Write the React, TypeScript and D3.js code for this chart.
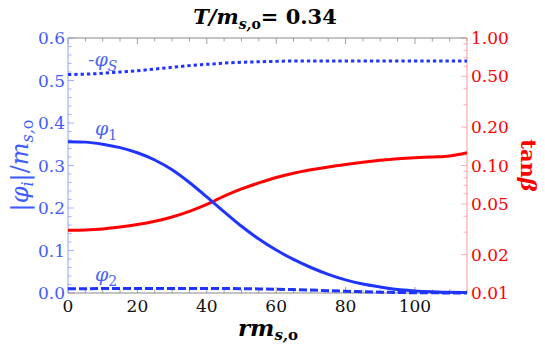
import React, { useEffect, useRef } from "react";
import * as d3 from "d3";

// radius grid (r m_s,o)
const rGrid = [0, 5, 10, 15, 20, 25, 30, 35, 40, 45, 50, 55, 60, 65, 70, 75, 80, 85, 90, 95, 100, 105, 110, 115];
// -phi_S / m_s,o (dotted)
const phiS = [0.514, 0.515, 0.517, 0.52, 0.523, 0.527, 0.531, 0.535, 0.538, 0.541, 0.543, 0.544, 0.545, 0.546, 0.546, 0.546, 0.546, 0.546, 0.546, 0.546, 0.546, 0.546, 0.546, 0.546];
// phi_1 / m_s,o (solid)
const phi1 = [0.356, 0.355, 0.35, 0.342, 0.33, 0.313, 0.29, 0.26, 0.226, 0.191, 0.157, 0.127, 0.101, 0.079, 0.06, 0.044, 0.031, 0.021, 0.014, 0.008, 0.005, 0.003, 0.0015, 0.001];
// phi_2 / m_s,o (dashed)
const phi2 = [0.01, 0.0102, 0.0104, 0.0106, 0.0107, 0.0108, 0.0108, 0.0108, 0.0107, 0.0105, 0.0102, 0.0097, 0.009, 0.008, 0.0068, 0.0055, 0.0042, 0.003, 0.002, 0.0012, 0.0007, 0.0004, 0.0002, 0.0001];
// tan beta (right log axis)
const tanB = [0.031, 0.0312, 0.0318, 0.0329, 0.0344, 0.0365, 0.0395, 0.0437, 0.0495, 0.0575, 0.0655, 0.073, 0.0805, 0.087, 0.0925, 0.0975, 0.102, 0.1062, 0.1098, 0.1128, 0.115, 0.1166, 0.1188, 0.126];

const xTicks = [0, 20, 40, 60, 80, 100];
const yLeftTicks = [0, 0.1, 0.2, 0.3, 0.4, 0.5, 0.6];
const yRightTicks = [0.01, 0.02, 0.05, 0.1, 0.2, 0.5, 1];

const FONT = "DejaVu Serif";
const BLUE = "#1f35ff";
const LBLUE = "#4a64f5";
const RED = "#ff0000";

export default function App() {
  const ref = useRef<SVGSVGElement>(null);

  useEffect(() => {
    const svg = d3.select(ref.current);
    svg.selectAll("*").remove();

    const left = 68, right = 467, top = 38, bottom = 293;

    const x = d3.scaleLinear().domain([0, 115]).range([left, right]);
    const yL = d3.scaleLinear().domain([0, 0.6]).range([bottom, top]);
    const yR = d3.scaleLog().domain([0.01, 1]).range([bottom, top]);

    const g = svg.append("g");

    // frame ticks (inward)
    d3.range(0, 116, 5).forEach((v) => {
      const len = v % 20 === 0 ? 6 : 3.5;
      g.append("line").attr("x1", x(v)).attr("x2", x(v)).attr("y1", bottom).attr("y2", bottom - len).attr("stroke", "#888").attr("stroke-width", 0.8);
      g.append("line").attr("x1", x(v)).attr("x2", x(v)).attr("y1", top).attr("y2", top + len).attr("stroke", "#888").attr("stroke-width", 0.8);
    });
    d3.range(0, 0.601, 0.02).forEach((v, i) => {
      const len = i % 5 === 0 ? 6 : 3.5;
      g.append("line").attr("x1", left).attr("x2", left + len).attr("y1", yL(v)).attr("y2", yL(v)).attr("stroke", "#8fa0ff").attr("stroke-width", 0.8);
    });
    const logMinor: number[] = [];
    [0.01, 0.1].forEach((d) => d3.range(1, 10).forEach((k) => logMinor.push(k * d)));
    logMinor.push(1);
    logMinor.forEach((v) => {
      const major = yRightTicks.some((t) => Math.abs(t - v) < 1e-9);
      const len = major ? 6 : 3.5;
      g.append("line").attr("x1", right).attr("x2", right - len).attr("y1", yR(v)).attr("y2", yR(v)).attr("stroke", "#ff9a9a").attr("stroke-width", 0.8);
    });

    // frame lines
    g.append("line").attr("x1", left).attr("x2", right).attr("y1", bottom).attr("y2", bottom).attr("stroke", "#888");
    g.append("line").attr("x1", left).attr("x2", right).attr("y1", top).attr("y2", top).attr("stroke", "#888");
    g.append("line").attr("x1", left).attr("x2", left).attr("y1", top).attr("y2", bottom).attr("stroke", "#8fa0ff");
    g.append("line").attr("x1", right).attr("x2", right).attr("y1", top).attr("y2", bottom).attr("stroke", "#ff9a9a");

    // tick labels
    xTicks.forEach((v) => {
      g.append("text").attr("x", x(v)).attr("y", bottom + 19).attr("text-anchor", "middle").attr("font-family", FONT).attr("font-size", 17).attr("fill", "#111").text(String(v));
    });
    yLeftTicks.forEach((v) => {
      g.append("text").attr("x", left - 3).attr("y", yL(v) + 6).attr("text-anchor", "end").attr("font-family", FONT).attr("font-size", 17).attr("fill", "#3f5cff").text(v.toFixed(1));
    });
    yRightTicks.forEach((v) => {
      g.append("text").attr("x", right + 4).attr("y", yR(v) + 6).attr("text-anchor", "start").attr("font-family", FONT).attr("font-size", 17).attr("fill", RED).text(v.toFixed(2));
    });

    const pts = (ys: number[]) => rGrid.map((r, i) => [r, ys[i]] as [number, number]);
    const lineL = d3.line<[number, number]>().x((d) => x(d[0])).y((d) => yL(d[1])).curve(d3.curveMonotoneX);
    const lineR = d3.line<[number, number]>().x((d) => x(d[0])).y((d) => yR(d[1])).curve(d3.curveMonotoneX);

    g.append("path").attr("d", lineR(pts(tanB))).attr("fill", "none").attr("stroke", RED).attr("stroke-width", 3);
    g.append("path").attr("d", lineL(pts(phi2))).attr("fill", "none").attr("stroke", BLUE).attr("stroke-width", 3).attr("stroke-dasharray", "8,3");
    g.append("path").attr("d", lineL(pts(phiS))).attr("fill", "none").attr("stroke", BLUE).attr("stroke-width", 3).attr("stroke-dasharray", "3.3,3");
    g.append("path").attr("d", lineL(pts(phi1))).attr("fill", "none").attr("stroke", BLUE).attr("stroke-width", 3);

    // curve labels
    const lab = (px: number, py: number, main: string, sub: string, subItalic: boolean) => {
      const t = g.append("text").attr("x", px).attr("y", py).attr("font-family", FONT).attr("font-size", 19).attr("fill", LBLUE);
      t.append("tspan").attr("font-style", "italic").text(main);
      t.append("tspan").attr("dy", 5).attr("font-size", 14).attr("font-style", subItalic ? "italic" : "normal").text(sub);
    };
    lab(88, 66, "-φ", "S", true);
    lab(95, 135, "φ", "1", false);
    lab(95, 281, "φ", "2", false);

    // title
    const title = svg.append("text").attr("x", 265).attr("y", 24).attr("text-anchor", "middle").attr("font-family", FONT).attr("font-size", 21).attr("font-weight", "bold").attr("fill", "#000");
    title.append("tspan").attr("font-style", "italic").text("T/m");
    title.append("tspan").attr("dy", 5).attr("font-size", 14).attr("font-style", "italic").text("s,");
    title.append("tspan").attr("font-size", 14).text("o");
    title.append("tspan").attr("dy", -5).text("= 0.34");

    // x label
    const xl = svg.append("text").attr("x", 268).attr("y", 336).attr("text-anchor", "middle").attr("font-family", FONT).attr("font-size", 23).attr("font-weight", "bold").attr("fill", "#000");
    xl.append("tspan").attr("font-style", "italic").text("rm");
    xl.append("tspan").attr("dy", 4).attr("font-size", 15).attr("font-style", "italic").text("s,");
    xl.append("tspan").attr("font-size", 15).text("o");

    // left y label
    const yl = svg.append("text").attr("transform", `translate(28,${(top + bottom) / 2}) rotate(-90)`).attr("text-anchor", "middle").attr("font-family", FONT).attr("font-size", 24).attr("fill", "#3f5cff");
    yl.append("tspan").text("|");
    yl.append("tspan").attr("font-style", "italic").text("φ");
    yl.append("tspan").attr("dy", 5).attr("font-size", 16).attr("font-style", "italic").text("i");
    yl.append("tspan").attr("dy", -5).text("|/");
    yl.append("tspan").attr("font-style", "italic").text("m");
    yl.append("tspan").attr("dy", 5).attr("font-size", 16).attr("font-style", "italic").text("s,");
    yl.append("tspan").attr("font-size", 16).text("o");

    // right y label
    const yr = svg.append("text").attr("transform", `translate(521,${(top + bottom) / 2}) rotate(90)`).attr("text-anchor", "middle").attr("font-family", FONT).attr("font-size", 21).attr("font-weight", "bold").attr("fill", RED);
    yr.append("tspan").text("tan");
    yr.append("tspan").attr("font-style", "italic").text("β");
  }, []);

  return (
    <svg ref={ref} width={545} height={345} style={{ position: "absolute", left: 0, top: 0, background: "#fff" }} />
  );
}
